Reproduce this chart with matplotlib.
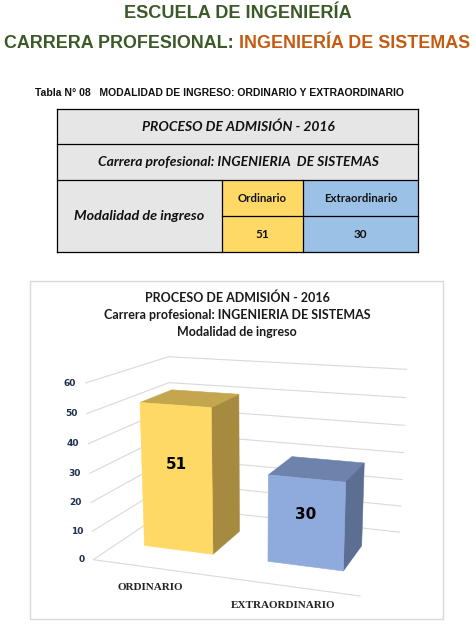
import numpy as np
import matplotlib
matplotlib.use('Agg')
import matplotlib.pyplot as plt
from matplotlib.patches import Rectangle
from matplotlib.transforms import offset_copy
from mpl_toolkits.mplot3d.art3d import Poly3DCollection

# ---------------- data ----------------
main_title = 'ESCUELA DE INGENIERÍA'
career_prefix = 'CARRERA PROFESIONAL: '
career_name = 'INGENIERÍA DE SISTEMAS'
table_caption = 'Tabla N° 08   MODALIDAD DE INGRESO: ORDINARIO Y EXTRAORDINARIO'
table_title = 'PROCESO DE ADMISIÓN - 2016'
table_subtitle = 'Carrera profesional: INGENIERIA  DE SISTEMAS'
row_label = 'Modalidad de ingreso'
modalities = ['Ordinario', 'Extraordinario']
categories = ['ORDINARIO', 'EXTRAORDINARIO']
values = [51, 30]
chart_title = ['PROCESO DE ADMISIÓN - 2016',
               'Carrera profesional: INGENIERIA DE SISTEMAS',
               'Modalidad de ingreso']
z_ticks = [0, 10, 20, 30, 40, 50, 60]

# ---------------- figure ----------------
W, H = 476, 629
plt.rcParams['grid.color'] = '#D9D9D9'
plt.rcParams['grid.linewidth'] = 0.8

# measure the two parts of the coloured heading on a scratch figure
hfont = dict(fontsize=12.85, fontweight='bold', family='Liberation Sans')
_tmp = plt.figure(figsize=(W / 100, H / 100), dpi=100)
_r = _tmp.canvas.get_renderer()
w1 = _tmp.text(0.1, 0.5, career_prefix, **hfont).get_window_extent(_r).width
w2 = _tmp.text(0.1, 0.5, career_name, **hfont).get_window_extent(_r).width
plt.close(_tmp)

fig = plt.figure(figsize=(W / 100, H / 100), dpi=100)

# 2D overlay for headings, table and chart frame (data units = pixels from top-left)
m = 0.01
axt = fig.add_axes([m, m, 1 - 2 * m, 1 - 2 * m], zorder=1)
axt.set_xlim(m * W, (1 - m) * W); axt.set_ylim((1 - m) * H, m * H); axt.axis('off')
for t in (axt.title, axt._left_title, axt._right_title):
    t.set_visible(False)

green = '#3B5A28'; orange = '#C55A11'
axt.text(238, 13, main_title, ha='center', va='center', fontsize=13.1, fontweight='bold',
         color=green, family='Liberation Sans')
x_start = 237 - (w1 + w2) / 2
axt.text(x_start, 44, career_prefix, ha='left', va='center', color=green, **hfont)
axt.text(x_start + w1, 44, career_name, ha='left', va='center', color=orange, **hfont)

axt.text(35, 93, table_caption, ha='left', va='center', fontsize=7.5, fontweight='bold',
         family='Liberation Sans', color='#111111')

xs_t = [57, 222, 303, 418]; ys_t = [109, 144, 180, 216, 252]
gray = '#E7E6E6'; ycol = '#FFD966'; bcol = '#9BC2E6'
axt.add_patch(Rectangle((xs_t[0], ys_t[0]), xs_t[3] - xs_t[0], ys_t[4] - ys_t[0], fc=gray, ec='none',
                        clip_on=False))
for j, col in enumerate([ycol, bcol]):
    axt.add_patch(Rectangle((xs_t[1 + j], ys_t[2]), xs_t[2 + j] - xs_t[1 + j], ys_t[4] - ys_t[2],
                            fc=col, ec='none', clip_on=False))
lk = dict(color='black', lw=0.9, clip_on=False)
for yy in ys_t[:3] + [ys_t[4]]:
    axt.plot([xs_t[0], xs_t[3]], [yy, yy], **lk)
axt.plot([xs_t[1], xs_t[3]], [ys_t[3], ys_t[3]], **lk)
axt.plot([xs_t[0], xs_t[0]], [ys_t[0], ys_t[4]], **lk)
axt.plot([xs_t[3], xs_t[3]], [ys_t[0], ys_t[4]], **lk)
for xx in xs_t[1:3]:
    axt.plot([xx, xx], [ys_t[2], ys_t[4]], **lk)
fk = dict(family='Lato', fontweight='bold', ha='center', va='center', color='#111111')
axt.text(238, 126.5, table_title, fontsize=10, style='italic', **fk)
axt.text(238, 162.5, table_subtitle, fontsize=10, style='italic', **fk)
axt.text(139.5, 216, row_label, fontsize=10.4, style='italic', **fk)
for j in range(len(modalities)):
    xc_t = (xs_t[1 + j] + xs_t[2 + j]) / 2
    axt.text(xc_t, 198.5, modalities[j], fontsize=8.2, **fk)
    axt.text(xc_t, 234.5, str(values[j]), fontsize=8.5, **fk)

axt.add_patch(Rectangle((30, 281), 413, 338, fc='none', ec='#D9D9D9', lw=1, clip_on=False))
for k, line in enumerate(chart_title):
    axt.text(237, 298 + 17 * k, line, fontsize=9, family='Lato', fontweight='bold',
             ha='center', va='center', color='#1a1a1a')

# ---------------- 3D chart ----------------
S = 400
ax = fig.add_axes([47.9 / W, -39.1 / H, S / W, S / H], projection='3d', zorder=2)
ax.set_xlim(0, len(categories)); ax.set_ylim(0, 1); ax.set_zlim(z_ticks[0], z_ticks[-1])
ax.view_init(elev=14.66, azim=-70.17)
ax.set_proj_type('persp', focal_length=0.4269)
ax.set_box_aspect((1, 0.6887, 0.6550), zoom=0.8948)
for t in (ax.title, ax._left_title, ax._right_title):
    t.set_visible(False)

hw, d0, d1 = 0.283, 0.2925, 0.6985   # bar half-width, front and back depth

ax.set_facecolor((1, 1, 1, 0))
for a in (ax.xaxis, ax.yaxis, ax.zaxis):
    a.set_pane_color((1, 1, 1, 0))
    a.pane.set_edgecolor((1, 1, 1, 0))
    a.line.set_color((1, 1, 1, 0))
    a.label.set_visible(False)
    a.offsetText.set_visible(False)
ax.set_xticks([]); ax.set_yticks([])
ax.set_zticks(z_ticks); ax.set_zticklabels([])
ax.zaxis._axinfo['grid'].update({'color': '#D9D9D9', 'linewidth': 0.8})
ax.zaxis._axinfo['tick']['inward_factor'] = 0
ax.zaxis._axinfo['tick']['outward_factor'] = 0

ax.plot([0, len(categories)], [0, 0], [0, 0], color='#D9D9D9', lw=0.8)


def proj2d(x, y, z):
    M = ax.get_proj()
    v = M @ np.array([x, y, z, 1.0])
    return v[0] / v[3], v[1] / v[3]


face_cols = [['#FFD966', '#C4A64F', '#A58A40'], ['#8FAADC', '#6E83AC', '#5C6E91']]
xpos = np.arange(len(categories)) + 0.5
for xc, h, cols in zip(xpos, values, face_cols):
    x0, x1 = xc - hw, xc + hw
    front = [(x0, d0, 0), (x1, d0, 0), (x1, d0, h), (x0, d0, h)]
    top = [(x0, d0, h), (x1, d0, h), (x1, d1, h), (x0, d1, h)]
    side = [(x1, d0, 0), (x1, d1, 0), (x1, d1, h), (x1, d0, h)]
    pc = Poly3DCollection([front, top, side], facecolors=cols, edgecolors=cols, linewidths=0.4)
    ax.add_collection3d(pc)
    px, py = proj2d(xc, d0, 0.6 * h)
    ax.text2D(px, py, str(h), transform=ax.transData, ha='center', va='center', fontsize=11,
              fontweight='heavy', color='black', zorder=50)

zoff = offset_copy(ax.transData, fig=fig, x=-9, y=0, units='dots')
for v_ in z_ticks:
    px, py = proj2d(0, 0, v_)
    ax.text2D(px, py, str(v_), transform=zoff, ha='right', va='center', fontsize=6.5,
              fontweight='bold', color='#1F2F4F', zorder=50)
coff = offset_copy(ax.transData, fig=fig, x=-5, y=-19, units='dots')
for xc, lab in zip(xpos, categories):
    px, py = proj2d(xc, 0, 0)
    ax.text2D(px, py, lab, transform=coff, ha='center', va='center', fontsize=8,
              family='Liberation Serif', fontweight='bold', color='#222222', zorder=50)

fig.savefig('out.png', dpi=100)
